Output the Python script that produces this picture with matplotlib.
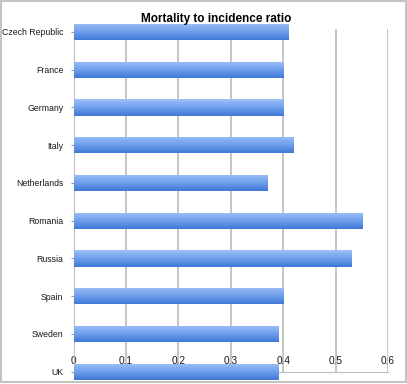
import numpy as np
import matplotlib
matplotlib.use('Agg')
import matplotlib.pyplot as plt
from matplotlib.colors import LinearSegmentedColormap
from matplotlib.patches import Rectangle

# data
countries = ['Czech Republic', 'France', 'Germany', 'Italy', 'Netherlands',
             'Romania', 'Russia', 'Spain', 'Sweden', 'UK']
ratio = [0.41, 0.40, 0.40, 0.42, 0.37, 0.55, 0.53, 0.40, 0.39, 0.39]
x_ticks = [0, 0.1, 0.2, 0.3, 0.4, 0.5, 0.6]
x_labels = ['0', '0.1', '0.2', '0.3', '0.4', '0.5', '0.6']

plt.rcParams['font.family'] = ['Liberation Sans', 'DejaVu Sans']

fig = plt.figure(figsize=(4.07, 3.84), dpi=100)
ax = fig.add_axes([0.1811, 0.03125, 0.7722, 0.8924])

pos = np.arange(len(countries))
bars = ax.barh(pos, ratio, height=0.43, color='#6e9de8', zorder=2)

# excel-ish gradient on the bars
grad = LinearSegmentedColormap.from_list('bar', ['#9dc0f6', '#6f9fec', '#3f78d6'])
g = np.linspace(0, 1, 64).reshape(-1, 1)
for b in bars:
    x0, y0 = b.get_x(), b.get_y()
    w, h = b.get_width(), b.get_height()
    im = ax.imshow(g, cmap=grad, aspect='auto', interpolation='bilinear',
                   extent=(x0, x0 + w, y0 + h, y0), zorder=3)
    im.set_clip_path(b)

ax.set_xlim(0, 0.6)
ax.set_ylim(9.01, -0.07)
ax.set_aspect('auto')

ax.set_yticks(pos)
ax.set_yticklabels(countries)
ax.tick_params(axis='y', length=2, color='#999999', labelsize=6.3, pad=5.5,
               labelcolor='#1a1a1a')

# x labels sit inside the plot, between Sweden and UK
ax.set_xticks(x_ticks)
ax.set_xticklabels(x_labels)
ax.xaxis.tick_top()
ax.spines['top'].set_position(('data', 8.86))
ax.spines['top'].set_visible(False)
ax.tick_params(axis='x', length=0, pad=0, labelsize=7.3, labelcolor='#1a1a1a')

ax.grid(axis='x', color='#c0c0c0', lw=1.3, zorder=0)
ax.set_axisbelow(True)
ax.spines['right'].set_visible(False)
ax.spines['left'].set_color('#bfbfbf')
ax.spines['bottom'].set_color('#bfbfbf')

fig.text(216 / 407, 1 - 19.3 / 384, 'Mortality to incidence ratio',
         ha='center', va='center', fontweight='bold', fontsize=8.5)

fig.patches.append(Rectangle((0.003, 0.004), 0.994, 0.993, transform=fig.transFigure,
                             fill=False, ec='#c4c4c4', lw=1.5))

fig.savefig('out.png', dpi=100)
